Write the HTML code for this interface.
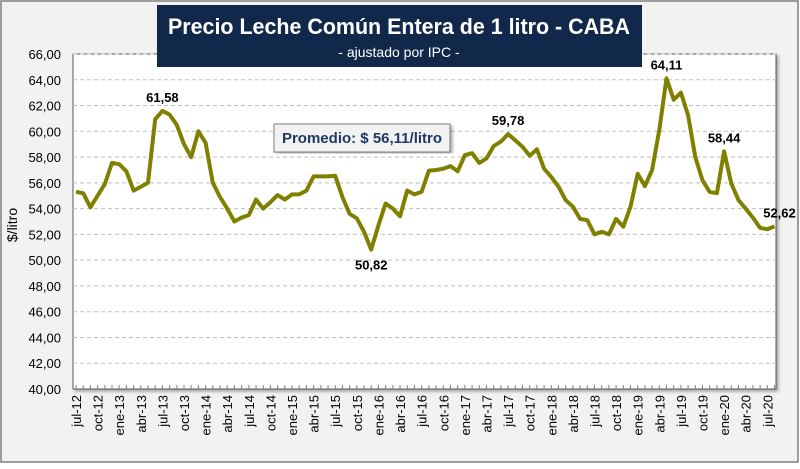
<!DOCTYPE html>
<html><head><meta charset="utf-8"><style>
body{margin:0;background:#fff;}
#c{position:relative;width:800px;height:464px;}
text{font-family:"Liberation Sans",sans-serif;}
</style></head><body>
<div id="c">
<svg id="svg" width="800" height="464" xmlns="http://www.w3.org/2000/svg">
<defs><filter id="sh" x="-5%" y="-5%" width="110%" height="110%"><feDropShadow dx="2" dy="2" stdDeviation="1.5" flood-color="#000" flood-opacity="0.35"/></filter></defs>
<rect x="1" y="1" width="797" height="461" fill="#f2f2f2" stroke="#7f7f7f" stroke-width="1.5"/>
<rect x="73" y="54" width="703" height="335" fill="#fff" stroke="#595959" stroke-width="1" filter="url(#sh)"/>
<g id="grid"></g><g id="yt"></g><g id="xt"></g><g id="ln"></g>
<text x="17" y="225" font-size="14" text-anchor="middle" transform="rotate(-90 17 225)" fill="#000">$/litro</text>
<rect x="157" y="5" width="485" height="62" fill="#11284a"/>
<text x="399" y="34" font-size="22" font-weight="bold" fill="#fff" text-anchor="middle" textLength="462" lengthAdjust="spacingAndGlyphs">Precio Leche Común Entera de 1 litro - CABA</text>
<text x="399" y="57" font-size="14" fill="#fff" text-anchor="middle">- ajustado por IPC -</text>
<rect x="274" y="124" width="176" height="28" fill="#f2f2f2" stroke="#7f7f7f" filter="url(#sh)"/>
<text x="362" y="143" font-size="15" font-weight="bold" fill="#1f3864" text-anchor="middle">Promedio: $ 56,11/litro</text>
</svg>
</div>
<script>
const values=[55.3,55.2,54.1,55.0,55.9,57.55,57.45,56.9,55.4,55.7,56.0,60.94,61.58,61.3,60.5,59.0,58.0,60.0,59.1,56.0,54.9,54.0,53.0,53.3,53.5,54.7,54.0,54.5,55.05,54.7,55.1,55.1,55.4,56.5,56.5,56.5,56.55,54.9,53.6,53.25,52.2,50.82,52.7,54.4,54.0,53.4,55.4,55.1,55.3,56.95,57.0,57.1,57.3,56.9,58.15,58.3,57.55,57.9,58.85,59.2,59.78,59.3,58.8,58.1,58.6,57.1,56.45,55.7,54.65,54.15,53.2,53.1,52.0,52.2,52.0,53.2,52.6,54.15,56.7,55.75,57.0,60.1,64.11,62.45,63.0,61.25,58.0,56.2,55.3,55.2,58.44,55.95,54.65,54.0,53.3,52.5,52.4,52.62];
const monthNames=["jul","oct","ene","abr"];
const yTicks=[40,42,44,46,48,50,52,54,56,58,60,62,64,66];
const annotated=[12,41,60,82,90,97];
const NS="http://www.w3.org/2000/svg";
const x0=76,x1=774.5,yTop=54,yBot=389,ymin=40,ymax=66;
const xs=i=>x0+(x1-x0)*i/(values.length-1);
const ys=v=>yBot-(v-ymin)/(ymax-ymin)*(yBot-yTop);
function mk(tag,at,parent){const e=document.createElementNS(NS,tag);for(const k in at)e.setAttribute(k,at[k]);parent.appendChild(e);return e;}
const fmt=v=>v.toFixed(2).replace('.',',');
const g=document.getElementById('grid'),yt=document.getElementById('yt'),xt=document.getElementById('xt'),ln=document.getElementById('ln');
yTicks.forEach(v=>{
 if(v>ymin){const l=mk('line',{x1:73,x2:776,y1:ys(v),y2:ys(v),stroke:'#bfbfbf','stroke-dasharray':'4,3','stroke-width':1},g);
 
 }
 const t=mk('text',{x:61,y:ys(v)+5,'font-size':13,'text-anchor':'end',fill:'#000'},yt);
 t.textContent=fmt(v);
 
 
});
for(let i=0;i<values.length;i++){
 const x=xs(i);
 const tk=mk('line',{x1:x,x2:x,y1:389,y2:385,stroke:'#7f7f7f'},xt);
 
 
 if(i%3===0){
  const q=i/3, m=monthNames[q%4];
  const yr=12+Math.floor((q+2)/4);
  const t=mk('text',{x:0,y:0,'font-size':13,'text-anchor':'end',fill:'#000',transform:`translate(${x+5},395) rotate(-90)`},xt);
  t.textContent=m+'-'+yr;
  
  
 }
}
const p=mk('polyline',{points:values.map((v,i)=>xs(i).toFixed(1)+','+ys(v).toFixed(1)).join(' '),fill:'none',stroke:'#808000','stroke-width':4,'stroke-linejoin':'round'},ln);


annotated.forEach(i=>{
 const v=values[i];
 const low=(i===41);
 const last=(i===values.length-1);
 const t=mk('text',{x:xs(i)+(last?5:0),y:low?ys(v)+20:ys(v)-9,'font-size':13,'font-weight':'bold','text-anchor':'middle',fill:'#000'},ln);
 t.textContent=fmt(v);
 
 
});
</script>
</body></html>
